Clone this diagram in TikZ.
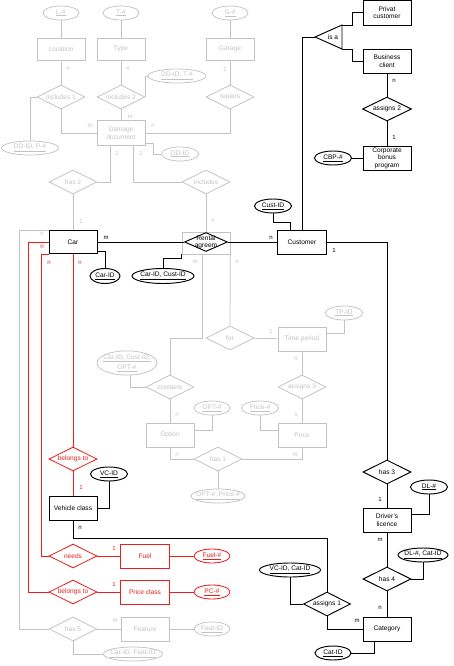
\documentclass[tikz,border=0pt]{standalone}
\usepackage{fontspec}
\setmainfont{Liberation Sans}
\usetikzlibrary{shapes.geometric}
\definecolor{lg}{RGB}{195,195,195}
\definecolor{rd}{RGB}{235,30,30}
\newcommand\ztxt[1]{\makebox[0pt][c]{#1}}
\begin{document}
\begin{tikzpicture}[x=1pt,y=-1pt,font=\fontsize{6.6}{7.6}\selectfont,
  ent/.style={rectangle,draw,fill=white,minimum width=48,minimum height=24,inner sep=0pt,align=center},
  rel/.style={diamond,draw,fill=white,aspect=2,minimum width=48,minimum height=24,inner sep=0pt},
  att/.style={ellipse,draw,fill=white,minimum height=14,inner sep=0pt,align=center},
  gcol/.style={draw=lg,text=lg,line width=0.75pt},
  bcol/.style={draw=black,text=black,line width=0.95pt},
  rcol/.style={draw=rd,text=rd,line width=0.85pt},
  lbl/.style={inner sep=0pt,font=\fontsize{6}{7}\selectfont}]
\useasboundingbox (0,0) rectangle (454,666);

% ---------- gray nodes
\node[att,gcol,minimum width=36] (lnum) at (61,13) {\ztxt{\underline{L-\#}}};
\node[att,gcol,minimum width=36] (tnum) at (121,13) {\ztxt{\underline{T-\#}}};
\node[att,gcol,minimum width=36] (gnum) at (230,13) {\ztxt{\underline{G-\#}}};
\node[ent,gcol,minimum height=22] (location) at (61,49) {Location};
\node[ent,gcol,minimum height=22] (type) at (121,49) {Type};
\node[ent,gcol,minimum height=22] (garage) at (230,49) {Garage};
\node[rel,gcol] (inc1) at (61,97) {\ztxt{includes 1}};
\node[rel,gcol] (inc2) at (121,97) {\ztxt{includes 2}};
\node[rel,gcol] (repairs) at (230,97) {\ztxt{repairs}};
\node[att,gcol,minimum width=58] (ddt) at (177,76) {\ztxt{\underline{DD-ID, T-\#}}};
\node[ent,gcol,minimum height=25] (damage) at (121,133) {Damage\\document};
\node[att,gcol,minimum width=57] (ddp) at (30,148) {\ztxt{\underline{DD-ID, P-\#}}};
\node[att,gcol,minimum width=37] (ddid) at (180,154) {\ztxt{\underline{DD-ID}}};
\node[rel,gcol] (has2) at (73,182) {\ztxt{has 2}};
\node[rel,gcol] (includes) at (206,182) {\ztxt{includes}};
\node[ent,gcol,minimum height=22] (rentbox) at (206,243) {};
\node[rel,gcol] (forr) at (230,338) {\ztxt{for}};
\node[rel,gcol] (contains) at (170,387) {\ztxt{contains}};
\node[att,gcol,minimum width=60,minimum height=23] (ccoe) at (127,363) {\ztxt{\shortstack{\underline{Car-ID, Cust-ID,}\\\underline{OPT-\#}}}};
\node[ent,gcol] (option) at (170,435) {Option};
\node[att,gcol,minimum width=36] (optnum) at (212,408) {\ztxt{\underline{OPT-\#}}};
\node[rel,gcol] (has1) at (218,459) {\ztxt{has 1}};
\node[att,gcol,minimum width=54] (oppr) at (218,496) {\ztxt{\underline{OPT-\#, Price-\#}}};
\node[ent,gcol] (price) at (302,435) {Price};
\node[att,gcol,minimum width=37] (pricenum) at (260,408) {\ztxt{\underline{Price-\#}}};
\node[rel,gcol] (assigns3) at (302,387) {\ztxt{assigns 3}};
\node[ent,gcol] (timep) at (302,339) {Time period};
\node[att,gcol,minimum width=37] (tpid) at (344,313) {\ztxt{\underline{TP-ID}}};
\node[ent,gcol] (feature) at (145,629) {Feature};
\node[rel,gcol] (has5) at (73,629) {\ztxt{has 5}};
\node[att,gcol,minimum width=36] (featid) at (212,629) {\ztxt{\underline{Feat-ID}}};
\node[att,gcol,minimum width=59] (cfeat) at (133,654) {\ztxt{\underline{Car-ID, Feat-ID}}};

% ---------- black nodes
\node[ent,bcol,minimum height=23] (car) at (73,242) {Car};
\node[att,bcol,minimum width=30,minimum height=15] (carid) at (105,276) {\ztxt{\underline{Car-ID}}};
\node[rel,bcol,minimum width=43,minimum height=19] (rental) at (206,242) {\ztxt{\shortstack{Rental\\agreem}}};
\node[att,bcol,minimum width=62,minimum height=15] (ccid) at (163,276) {\ztxt{\underline{Car-ID, Cust-ID}}};
\node[ent,bcol,minimum width=49] (customer) at (302,242) {Customer};
\node[att,bcol,minimum width=37] (custid) at (273,206) {\ztxt{\underline{Cust-ID}}};
\coordinate (isatip) at (315,37);
\coordinate (isatr) at (342,25);
\coordinate (isabr) at (342,49);
\draw[bcol,fill=white] (isatip) -- (isatr) -- (isabr) -- cycle;
\node[inner sep=0pt] (isatext) at (333,37) {is a};
\node[ent,bcol,minimum height=25] (privat) at (387,12.5) {Privat\\customer};
\node[ent,bcol] (business) at (387,61) {Business\\client};
\node[rel,bcol,minimum width=49] (assigns2) at (387,109) {\ztxt{assigns 2}};
\node[ent,bcol] (cbp) at (387,158) {Corporate\\bonus\\program};
\node[att,bcol,minimum width=37] (cbpnum) at (333,158) {\ztxt{\underline{CBP-\#}}};
\node[rel,bcol] (has3) at (387,472) {\ztxt{has 3}};
\node[ent,bcol] (dl) at (387,520) {Driver's\\licence};
\node[att,bcol,minimum width=37] (dlnum) at (429,487) {\ztxt{\underline{DL-\#}}};
\node[rel,bcol] (has4) at (387,579) {\ztxt{has 4}};
\node[att,bcol,minimum width=50] (dlcat) at (423,555) {\ztxt{\underline{DL-\#, Cat-ID}}};
\node[ent,bcol] (category) at (387,629) {Category};
\node[att,bcol,minimum width=36] (catid) at (333,653) {\ztxt{\underline{Cat-ID}}};
\node[rel,bcol,minimum width=47] (assigns1) at (327,604) {\ztxt{assigns 1}};
\node[att,bcol,minimum width=61] (vccat) at (290,570) {\ztxt{\underline{VC-ID, Cat-ID}}};
\node[ent,bcol] (vclass) at (73,508) {Vehicle class};
\node[att,bcol,minimum width=37] (vcid) at (109,474) {\ztxt{\underline{VC-ID}}};

% ---------- red nodes
\node[rel,rcol] (belongs1) at (73,459) {\ztxt{belongs to}};
\node[rel,rcol] (needs) at (73,556) {\ztxt{needs}};
\node[ent,rcol,minimum width=49] (fuel) at (145,556) {Fuel};
\node[att,rcol,minimum width=36] (fuelnum) at (212,556) {\ztxt{\underline{Fuel-\#}}};
\node[rel,rcol] (belongs2) at (73,592) {\ztxt{belongs to}};
\node[ent,rcol,minimum width=49] (pclass) at (145,592) {Price class};
\node[att,rcol,minimum width=36] (pcnum) at (212,592) {\ztxt{\underline{PC-\#}}};

% ---------- gray connectors
\begin{scope}[gcol]
\draw (lnum) -- (location);
\draw (tnum) -- (type);
\draw (gnum) -- (garage);
\draw (location) -- (inc1);
\draw (type) -- (inc2);
\draw (garage) -- (repairs);
\draw (inc2) -- (damage);
\draw (inc1.south) |- (damage.west);
\draw (repairs.south) |- (damage.east);
\draw (inc2.east) |- (ddt.west);
\draw (inc1.west) -| (ddp.north);
\draw ([yshift=-10pt]damage.east) -- ++(8,0) |- (ddid.west);
\draw ([xshift=-11pt]damage.south) |- (has2.east);
\draw ([xshift=12pt]damage.south) |- (includes.west);
\draw (has2) -- (car);
\draw (includes) -- (rentbox);
\draw ([xshift=-4pt]rentbox.south) -- ++(0,84) -| (contains.north);
\draw (rentbox.south east) -- (forr.north);
\draw (forr) -- (timep);
\draw (timep) -- (assigns3);
\draw (assigns3) -- (price);
\draw ([yshift=6pt]timep.east) -| (tpid.south);
\draw (ccoe.-75) |- (contains.west);
\draw (contains) -- (option);
\draw (optnum.south) |- ([yshift=5pt]option.east);
\draw (option.south) |- (has1.west);
\draw (has1.east) -| (price.south);
\draw (pricenum.south) |- ([yshift=5pt]price.west);
\draw (has1) -- (oppr);
\draw (car.north west) -- ++(-29,0) |- (has5.west);
\draw (has5) -- (feature);
\draw (feature) -- (featid);
\draw (has5.south) |- (cfeat.west);
\end{scope}

% ---------- red connectors
\begin{scope}[rcol]
\draw (car.west) -- ++(-20,0) |- (belongs2.west);
\draw (car.south west) -- ++(-7,0) |- (needs.west);
\draw (car) -- (belongs1);
\draw (belongs1) -- (vclass);
\draw (needs) -- (fuel);
\draw (fuel) -- (fuelnum);
\draw (belongs2) -- (pclass);
\draw (pclass) -- (pcnum);
\end{scope}

% ---------- black connectors
\begin{scope}[bcol]
\draw ([yshift=-9pt]car.east) -| (carid.north);
\draw (car) -- (rental);
\draw (rentbox.south west) -- ++(0,4) -| (ccid.north);
\draw (rental) -- (customer);
\draw (custid.south) -- ++(0,9) -| ([xshift=-12pt]customer.north);
\draw (customer.north) |- (isatip);
\draw (isatr) -- ++(10,0) |- (privat.west);
\draw (isabr) -- ++(10,0) |- (business.west);
\draw (business) -- (assigns2);
\draw (assigns2) -- (cbp);
\draw (cbpnum) -- (cbp);
\draw (customer.east) -| (has3.north);
\draw (has3) -- (dl);
\draw (dlnum.south) |- ([yshift=6pt]dl.east);
\draw (dl) -- (has4);
\draw (has4.east) -| (dlcat.south);
\draw (has4) -- (category);
\draw ([xshift=-13pt]category.south) |- (catid.east);
\draw (vccat.south) |- (assigns1.west);
\draw (assigns1.south) |- (category.west);
\draw (vclass.south) -- ++(0,18) -| (assigns1.north);
\draw (vcid.south) |- (vclass.east);
\end{scope}

% ---------- cardinality labels
\foreach \p/\t [count=\i] in {{68,69}/n,{128,69}/n,{225,69}/1,{130,117}/m,{90,126}/m,{153,126}/n,{117,153}/1,{141,153}/1,{81,221}/1,{213,221}/n,{42,234}/n,{195,262}/m,{237,262}/n,{271,331}/1,{296,359}/n,{296,414}/1,{177,415}/n,{177,455}/n,{295,455}/m,{115,621}/m}
  \node[lbl,text=lg] (gc\i) at (\p) {\t};
\foreach \p/\t [count=\i] in {{42,247}/n,{49,263}/n,{80,263}/n,{81,487}/1,{114,548}/1,{114,584}/1}
  \node[lbl,text=rd] (rc\i) at (\p) {\t};
\foreach \p/\t [count=\i] in {{106,238}/m,{271,238}/n,{334,250}/1,{394,81}/n,{394,137}/1,{380,499}/1,{380,540}/m,{380,608}/n,{357,621}/m,{80,528}/n}
  \node[lbl,text=black] (bc\i) at (\p) {\t};
\end{tikzpicture}
\end{document}
